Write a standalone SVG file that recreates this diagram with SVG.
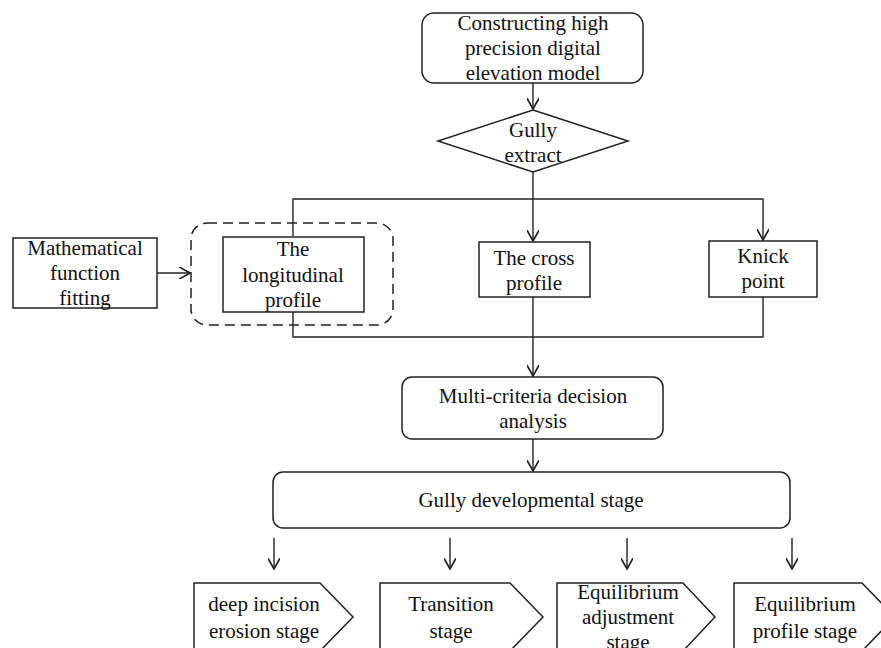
<svg xmlns="http://www.w3.org/2000/svg" width="881" height="648" viewBox="0 0 881 648">
<defs>
<marker id="arr" markerWidth="12" markerHeight="12" refX="9" refY="5" orient="auto" markerUnits="userSpaceOnUse" viewBox="0 0 10 10">
<path d="M0,0 L9,5 L0,10" fill="none" stroke="#222" stroke-width="1.4"/>
</marker>
<style>
.b{fill:#fff;stroke:#222;stroke-width:1.5}
.d{fill:none;stroke:#222;stroke-width:1.5;stroke-dasharray:10 6}
.l{fill:none;stroke:#222;stroke-width:1.4}
.t{font-family:"Liberation Serif","Times New Roman",serif;font-size:21px;fill:#111;text-anchor:middle}
</style>
</defs>
<rect width="881" height="648" fill="#fff"/>
<g id="connectors">
<path class="l" d="M533,83 V109" marker-end="url(#arr)"/>
<path class="l" d="M533,172 V241" marker-end="url(#arr)"/>
<path class="l" d="M293,236 V199 H763 V240" marker-end="url(#arr)"/>
<path class="l" d="M157,273 H190" marker-end="url(#arr)"/>
<path class="l" d="M293,312 V337 H763 V297"/>
<path class="l" d="M533,297 V376" marker-end="url(#arr)"/>
<path class="l" d="M533,439 V471" marker-end="url(#arr)"/>
<path class="l" d="M274,538 V569" marker-end="url(#arr)"/>
<path class="l" d="M450,538 V569" marker-end="url(#arr)"/>
<path class="l" d="M627,538 V569" marker-end="url(#arr)"/>
<path class="l" d="M792,538 V569" marker-end="url(#arr)"/>
</g>
<g id="dem">
<rect class="b" x="422" y="13" width="221" height="70" rx="12"/>
<text class="t" x="533" y="30">Constructing high</text>
<text class="t" x="533" y="55">precision digital</text>
<text class="t" x="533" y="80">elevation model</text>
</g>
<g id="gully-extract">
<polygon class="b" points="533,110 628,141 533,172 438,141"/>
<text class="t" x="533" y="137">Gully</text>
<text class="t" x="533" y="162">extract</text>
</g>
<g id="math-fitting">
<rect class="b" x="13" y="238" width="144" height="70"/>
<text class="t" x="85" y="255">Mathematical</text>
<text class="t" x="85" y="280">function</text>
<text class="t" x="85" y="305">fitting</text>
</g>
<g id="longitudinal">
<rect class="d" x="191" y="223" width="202" height="102" rx="16"/>
<rect class="b" x="223" y="237" width="141" height="75"/>
<text class="t" x="293" y="256">The</text>
<text class="t" x="293" y="282">longitudinal</text>
<text class="t" x="293" y="307">profile</text>
</g>
<g id="cross">
<rect class="b" x="479" y="242" width="111" height="55"/>
<text class="t" x="534" y="265">The cross</text>
<text class="t" x="534" y="290">profile</text>
</g>
<g id="knick">
<rect class="b" x="709" y="241" width="108" height="56"/>
<text class="t" x="763" y="263">Knick</text>
<text class="t" x="763" y="288">point</text>
</g>
<g id="mcda">
<rect class="b" x="402" y="377" width="261" height="62" rx="10"/>
<text class="t" x="533" y="403">Multi-criteria decision</text>
<text class="t" x="533" y="428">analysis</text>
</g>
<g id="stage">
<rect class="b" x="273" y="472" width="517" height="56" rx="10"/>
<text class="t" x="531" y="507">Gully developmental stage</text>
</g>
<g id="s1">
<path class="b" d="M194,583 H320 L353,617 L320,651 H194 Z"/>
<text class="t" x="264" y="611">deep incision</text>
<text class="t" x="264" y="638">erosion stage</text>
</g>
<g id="s2">
<path class="b" d="M380,583 H510 L543,617 L510,651 H380 Z"/>
<text class="t" x="451" y="611">Transition</text>
<text class="t" x="451" y="638">stage</text>
</g>
<g id="s3">
<path class="b" d="M557,583 H683 L715,617 L683,651 H557 Z"/>
<text class="t" x="628" y="599">Equilibrium</text>
<text class="t" x="628" y="624">adjustment</text>
<text class="t" x="628" y="649">stage</text>
</g>
<g id="s4">
<path class="b" d="M734,583 H862 L895,617 L862,651 H734 Z"/>
<text class="t" x="805" y="611">Equilibrium</text>
<text class="t" x="805" y="638">profile stage</text>
</g>
</svg>
